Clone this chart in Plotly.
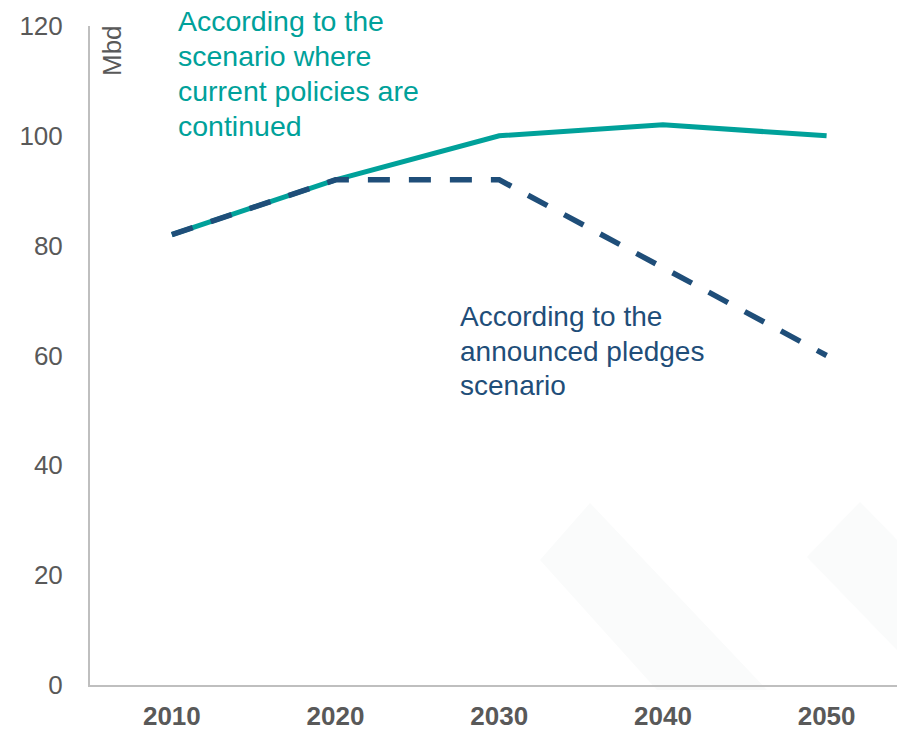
import plotly.graph_objects as go

years = ["2010", "2020", "2030", "2040", "2050"]
current_policies = [82, 92, 100, 102, 100]
announced_pledges = [82, 92, 92, 76, 60]
y_ticks = [0, 20, 40, 60, 80, 100, 120]

teal_label = ["According to the", "scenario where", "current policies are", "continued"]
navy_label = ["According to the", "announced pledges", "scenario"]

TEAL = "#00a19a"
NAVY = "#1f4e79"
GRAY = "#595959"
AXIS = "#bfbfbf"
FONT = "Liberation Sans, Arial, sans-serif"

W, H = 897, 731
L, R, T, B = 90, 0, 26, 46
pw, ph = W - L - R, H - T - B

def px(x):
    return (x - L) / pw

def py(y):
    return (H - B - y) / ph

fig = go.Figure()
fig.add_trace(go.Scatter(x=years, y=current_policies, mode="lines",
                         line=dict(color=TEAL, width=5), hoverinfo="skip",
                         showlegend=False))
fig.add_trace(go.Scatter(x=years, y=announced_pledges, mode="lines",
                         line=dict(color=NAVY, width=5.5, dash="22px,19px"),
                         hoverinfo="skip", showlegend=False))

# faint watermark bands
bands = [
    [(540, 560), (590, 503), (767, 690), (657, 690)],
    [(807, 557), (860, 502), (897, 540), (897, 650)],
]
for poly in bands:
    path = "M " + " L ".join(f"{px(a):.4f},{py(b):.4f}" for a, b in poly) + " Z"
    fig.add_shape(type="path", path=path, xref="paper", yref="paper",
                  fillcolor="#fafbfb", line=dict(width=0), layer="below")

for i, line in enumerate(teal_label):
    fig.add_annotation(x=px(176), y=py(21 + 35 * i), xref="paper", yref="paper",
                       xanchor="left", yanchor="middle", align="left",
                       showarrow=False, text=line,
                       font=dict(family=FONT, size=28.5, color=TEAL))
for i, line in enumerate(navy_label):
    fig.add_annotation(x=px(458), y=py(317 + 34 * i), xref="paper", yref="paper",
                       xanchor="left", yanchor="middle", align="left",
                       showarrow=False, text=line,
                       font=dict(family=FONT, size=28, color=NAVY))
fig.add_annotation(x=px(112), y=py(51), xref="paper", yref="paper",
                   xanchor="center", yanchor="middle", showarrow=False,
                   text="Mbd", textangle=-90,
                   font=dict(family=FONT, size=26, color=GRAY))

fig.update_layout(
    width=W, height=H,
    margin=dict(l=L, r=R, t=T, b=B, pad=0, autoexpand=False),
    paper_bgcolor="white", plot_bgcolor="rgba(0,0,0,0)",
    xaxis=dict(type="category", range=[-0.5, 4.43], showgrid=False,
               showline=True, linecolor=AXIS, linewidth=2, ticks="",
               ticklabelstandoff=7, automargin=False,
               tickfont=dict(family=FONT, size=26, color=GRAY, weight="bold"),
               zeroline=False),
    yaxis=dict(range=[0, 120], tickvals=y_ticks, showgrid=False,
               showline=True, linecolor=AXIS, linewidth=2, ticks="",
               ticklabelstandoff=20, automargin=False,
               tickfont=dict(family=FONT, size=26, color=GRAY),
               zeroline=False),
)

fig.write_html("out.html", config={"displayModeBar": False},
               post_script="document.body.style.margin='0';document.body.style.overflow='hidden';")
